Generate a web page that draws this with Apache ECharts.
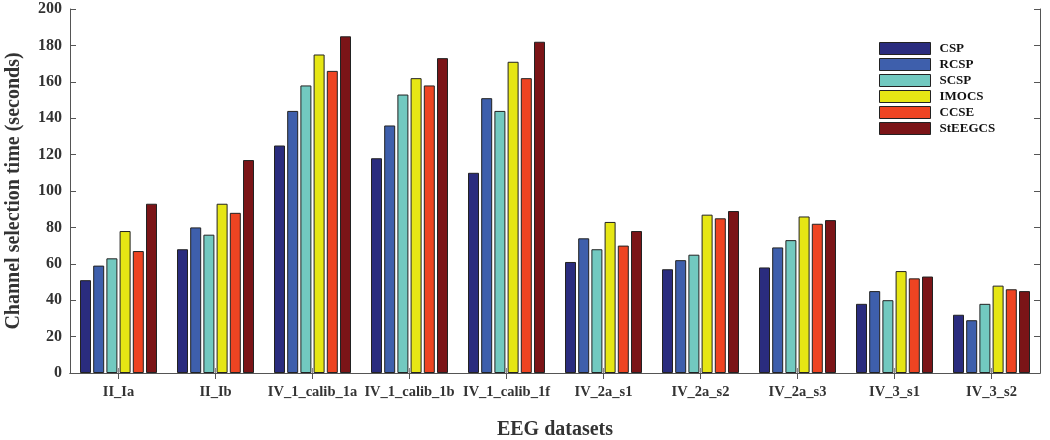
<!DOCTYPE html>
<html>
<head>
<meta charset="utf-8">
<script src="https://cdn.jsdelivr.net/npm/echarts@6/dist/echarts.min.js"></script>
<style>html,body{margin:0;padding:0;background:#fff;}#c{width:1050px;height:440px;}</style>
</head>
<body>
<div id="c"></div>
<script>
const categories = ['II_Ia','II_Ib','IV_1_calib_1a','IV_1_calib_1b','IV_1_calib_1f','IV_2a_s1','IV_2a_s2','IV_2a_s3','IV_3_s1','IV_3_s2'];
const seriesNames = ['CSP','RCSP','SCSP','IMOCS','CCSE','StEEGCS'];
const CSP     = [51, 68, 125, 118, 110, 61, 57, 58, 38, 32];
const RCSP    = [59, 80, 144, 136, 151, 74, 62, 69, 45, 29];
const SCSP    = [63, 76, 158, 153, 144, 68, 65, 73, 40, 38];
const IMOCS   = [78, 93, 175, 162, 171, 83, 87, 86, 56, 48];
const CCSE    = [67, 88, 166, 158, 162, 70, 85, 82, 52, 46];
const StEEGCS = [93, 117, 185, 173, 182, 78, 89, 84, 53, 45];
const yTicks = [0, 20, 40, 60, 80, 100, 120, 140, 160, 180, 200];

const values = [CSP, RCSP, SCSP, IMOCS, CCSE, StEEGCS];
const colors = ['#2a2c7e', '#3e5fac', '#72c9c0', '#e6e614', '#ee4422', '#7b1417'];
const font = 'Liberation Serif, Times New Roman, serif';

const chart = echarts.init(document.getElementById('c'), null, {renderer: 'canvas'});
const axisLine = {show: true, lineStyle: {color: '#555', width: 1}};
chart.setOption({
  animation: false,
  color: colors,
  textStyle: {fontFamily: font},
  grid: {left: 70, right: 10, top: 9, bottom: 67, containLabel: false, outerBoundsMode: 'none'},
  legend: {
    orient: 'vertical', left: 874, top: 37,
    itemWidth: 51, itemHeight: 12, itemGap: 3,
    icon: 'rect',
    data: seriesNames,
    textStyle: {fontFamily: font, fontWeight: 'bold', fontSize: 13, color: '#111', padding: [0, 0, 0, 4]},
    itemStyle: {borderColor: '#222', borderWidth: 1}
  },
  xAxis: [{
    type: 'category', data: categories, position: 'bottom',
    axisLine: axisLine,
    axisTick: {show: true, inside: true, alignWithLabel: true, length: 5, lineStyle: {color: '#888'}},
    axisLabel: {interval: 0, fontFamily: font, fontWeight: 'bold', fontSize: 14.5, color: '#333', margin: 12},
    name: 'EEG datasets', nameLocation: 'middle', nameGap: 47,
    nameTextStyle: {fontFamily: font, fontWeight: 'bold', fontSize: 20, color: '#333'}
  }, {
    type: 'category', data: categories, position: 'top',
    axisLine: axisLine,
    axisTick: {show: true, inside: true, alignWithLabel: true, length: 6, lineStyle: {color: '#555'}},
    axisLabel: {show: false}
  }],
  yAxis: [{
    type: 'value', min: yTicks[0], max: yTicks[yTicks.length - 1], interval: yTicks[1] - yTicks[0],
    position: 'left',
    axisLine: axisLine,
    axisTick: {show: true, inside: true, length: 6, lineStyle: {color: '#555'}},
    splitLine: {show: false},
    axisLabel: {fontFamily: font, fontWeight: 'bold', fontSize: 16, color: '#333', margin: 8},
    name: 'Channel selection time (seconds)', nameLocation: 'middle', nameGap: 46, nameRotate: 90,
    nameTextStyle: {fontFamily: font, fontWeight: 'bold', fontSize: 20, color: '#333'}
  }, {
    type: 'value', min: yTicks[0], max: yTicks[yTicks.length - 1], interval: yTicks[1] - yTicks[0],
    position: 'right',
    axisLine: axisLine,
    axisTick: {show: true, inside: true, length: 6, lineStyle: {color: '#555'}},
    splitLine: {show: false},
    axisLabel: {show: false}
  }],
  series: seriesNames.map((n, i) => ({
    name: n, type: 'bar', data: values[i],
    xAxisIndex: 0, yAxisIndex: 0,
    barWidth: 11, barGap: '20%',
    itemStyle: {color: colors[i], borderColor: '#222', borderWidth: 1}
  }))
});
</script>
</body>
</html>
